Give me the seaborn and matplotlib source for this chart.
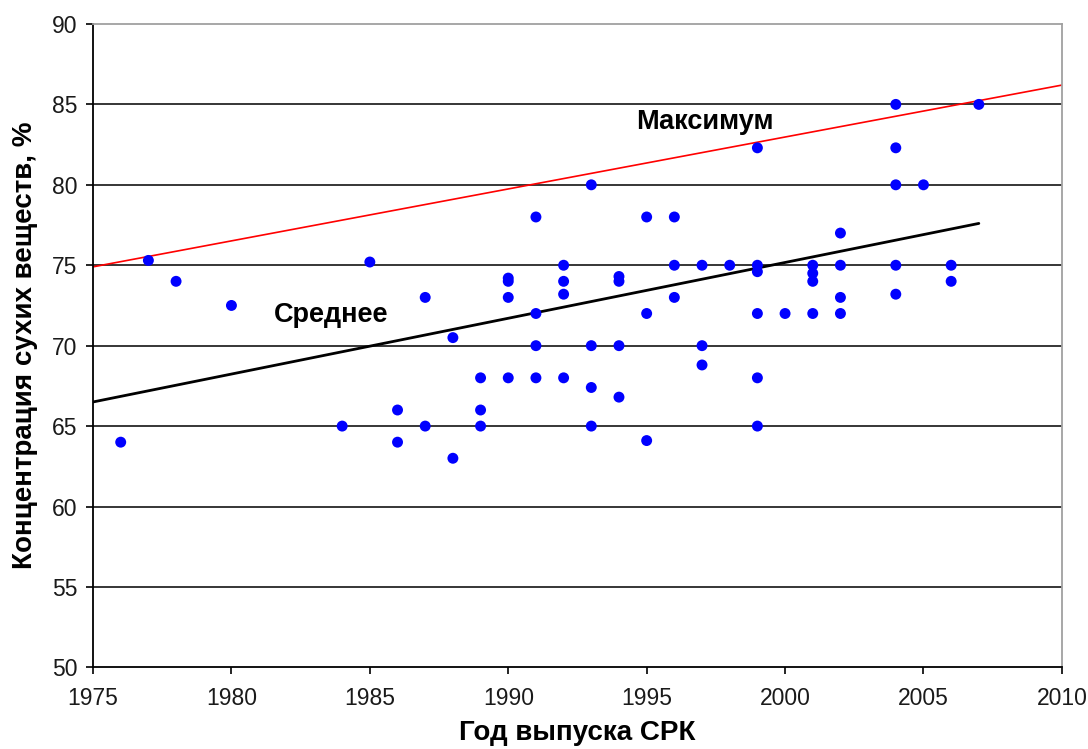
import matplotlib
matplotlib.use("Agg")
import matplotlib.pyplot as plt
import seaborn as sns
import pandas as pd

# год выпуска и концентрация сухих веществ, %
years = [1976, 1977, 1978, 1980, 1984, 1985, 1986, 1986, 1987, 1987,
         1988, 1988, 1989, 1989, 1989, 1990, 1990, 1990, 1990,
         1991, 1991, 1991, 1991, 1992, 1992, 1992, 1992,
         1993, 1993, 1993, 1993, 1994, 1994, 1994, 1994,
         1995, 1995, 1995, 1996, 1996, 1996, 1997, 1997, 1997, 1998,
         1999, 1999, 1999, 1999, 1999, 1999, 2000,
         2001, 2001, 2001, 2001, 2002, 2002, 2002, 2002,
         2004, 2004, 2004, 2004, 2004, 2005, 2006, 2006, 2007]
conc = [64.0, 75.3, 74.0, 72.5, 65.0, 75.2, 66.0, 64.0, 73.0, 65.0,
        70.5, 63.0, 68.0, 66.0, 65.0, 74.2, 74.0, 73.0, 68.0,
        78.0, 72.0, 70.0, 68.0, 75.0, 74.0, 73.2, 68.0,
        80.0, 70.0, 67.4, 65.0, 74.3, 74.0, 70.0, 66.8,
        78.0, 72.0, 64.1, 78.0, 75.0, 73.0, 75.0, 70.0, 68.8, 75.0,
        82.3, 75.0, 74.6, 72.0, 68.0, 65.0, 72.0,
        75.0, 74.5, 74.0, 72.0, 77.0, 75.0, 73.0, 72.0,
        85.0, 82.3, 80.0, 75.0, 73.2, 80.0, 75.0, 74.0, 85.0]

# линии "Среднее" и "Максимум" (концы)
mean_x = [1975, 2007]
mean_y = [66.5, 77.6]
max_x = [1975, 2010]
max_y = [74.9, 86.2]

df = pd.DataFrame({"year": years, "conc": conc})

sns.set_style("white")
plt.rcParams["font.family"] = ["Liberation Sans", "DejaVu Sans"]
plt.rcParams["text.color"] = "black"

fig = plt.figure(figsize=(10.88, 7.49), dpi=100)
ax = fig.add_axes([0.0855, 0.109, 0.8905, 0.859])

for yv in range(55, 90, 5):
    ax.axhline(yv, color="black", lw=1.1, zorder=1)

sns.lineplot(x=max_x, y=max_y, color="red", lw=1.2, ax=ax, zorder=2)
sns.lineplot(x=mean_x, y=mean_y, color="black", lw=2.0, ax=ax, zorder=2)
sns.scatterplot(data=df, x="year", y="conc", color="#0000ff", s=62,
                edgecolor="none", ax=ax, zorder=3)

ax.text(1983.6, 71.9, "Среднее", fontsize=19.5, fontweight="bold",
        color="black", ha="center", va="center")
ax.text(1997.1, 83.9, "Максимум", fontsize=19.5, fontweight="bold",
        color="black", ha="center", va="center")

ax.set_xlim(1975, 2010)
ax.set_ylim(50, 90)
ax.set_xticks(range(1975, 2011, 5))
ax.set_yticks(range(50, 91, 5))
ax.tick_params(axis="both", direction="out", length=5, width=1.2,
               color="black", labelcolor="#1a1a1a", labelsize=16.5,
               bottom=True, left=True)
ax.tick_params(axis="x", pad=9)
ax.tick_params(axis="y", pad=6)

for side in ["left", "bottom"]:
    ax.spines[side].set_color("black")
    ax.spines[side].set_linewidth(1.3)
for side in ["top", "right"]:
    ax.spines[side].set_color("#a0a0a0")
    ax.spines[side].set_linewidth(1.3)

ax.set_xlabel("Год выпуска СРК", fontsize=20, fontweight="bold",
              color="black", labelpad=7)
ax.set_ylabel("Концентрация сухих веществ, %", fontsize=20,
              fontweight="bold", color="black", labelpad=10)

fig.savefig("out.png", dpi=100)
